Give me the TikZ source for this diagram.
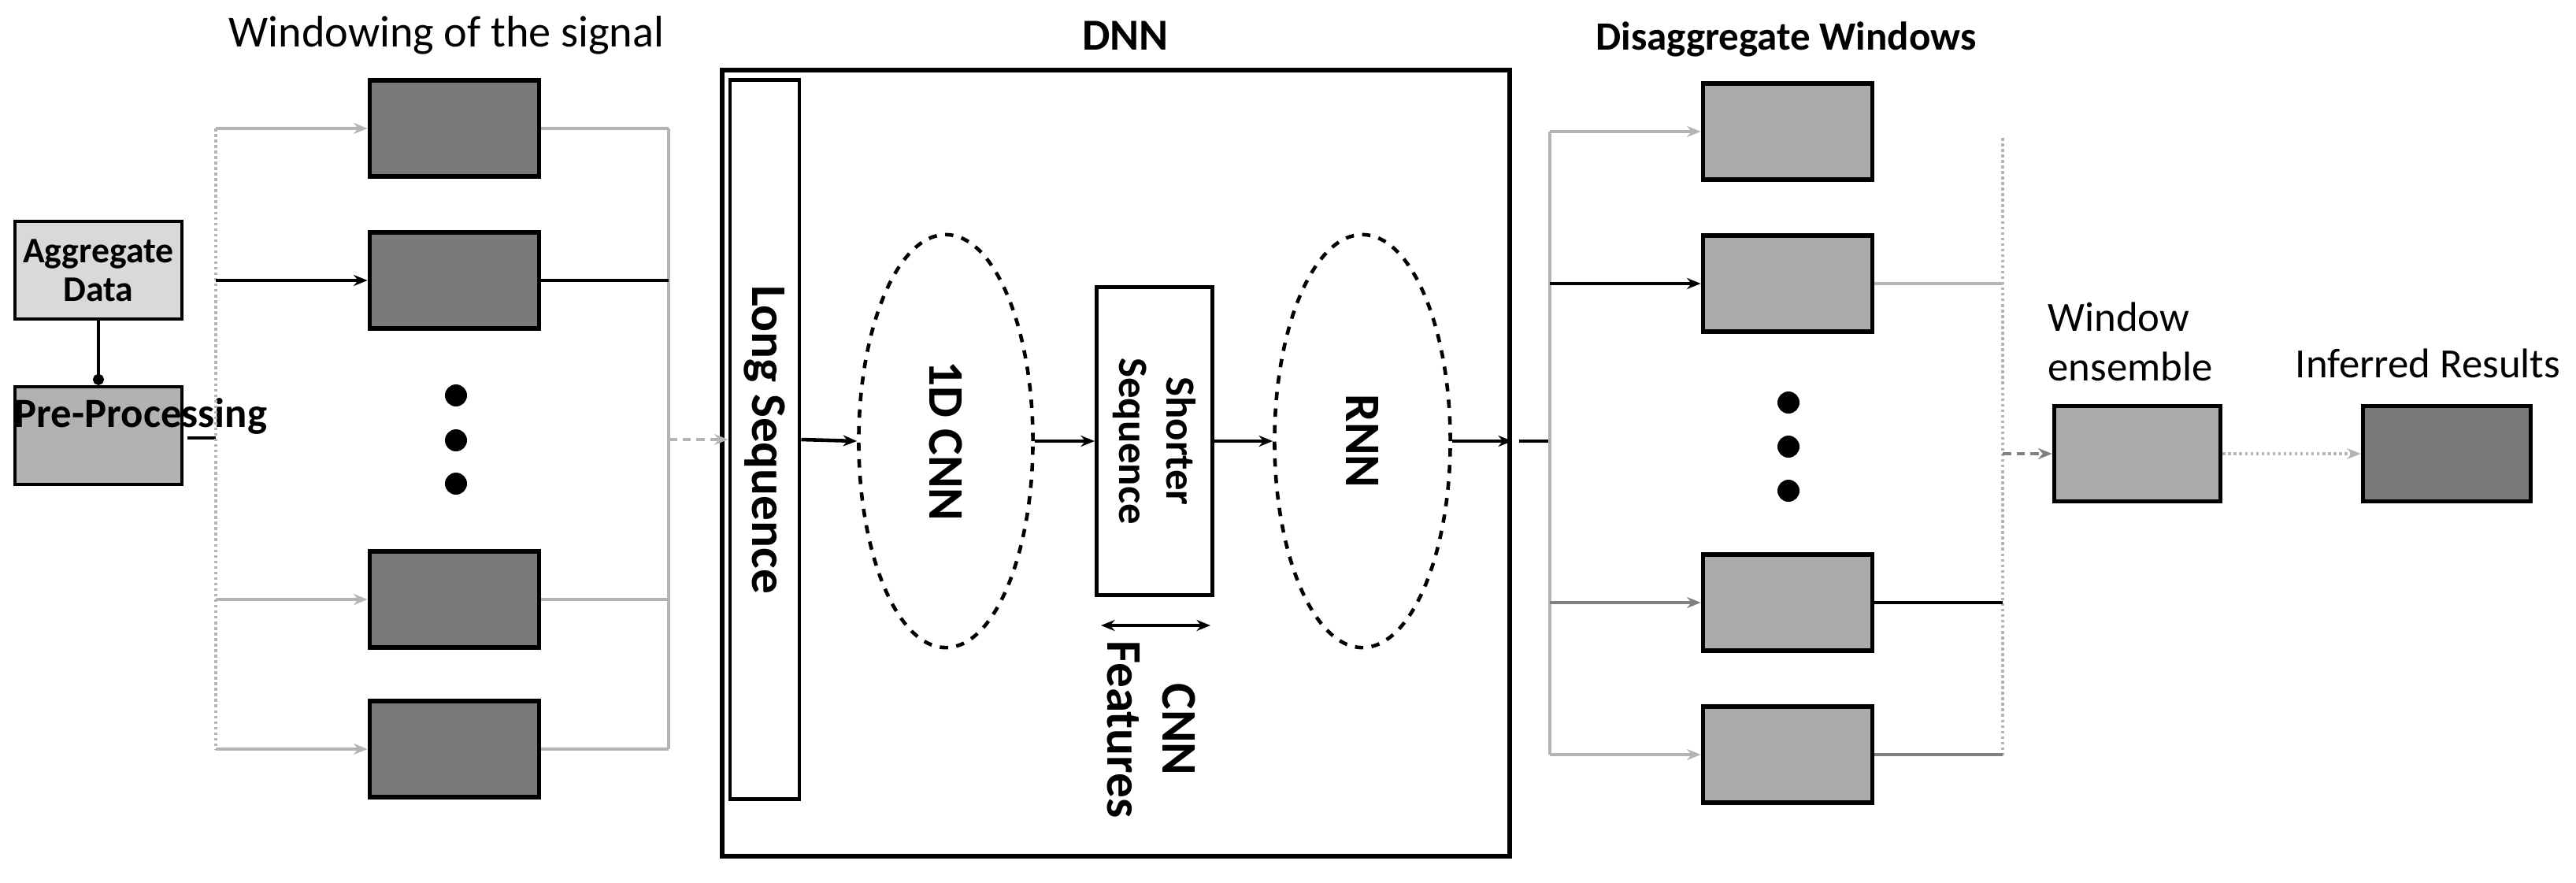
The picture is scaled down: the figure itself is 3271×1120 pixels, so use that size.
\documentclass[tikz,border=0pt]{standalone}
\usepackage{fontspec}
\setmainfont{Carlito}
\usetikzlibrary{positioning,arrows.meta,shapes.geometric}

\definecolor{darkwin}{HTML}{7A7A7A}
\definecolor{lightwin}{HTML}{ABABAB}
\definecolor{wire}{HTML}{B4B4B4}

\tikzset{
  win/.style={draw, line width=1.6pt, minimum width=2.15cm, minimum height=1.22cm, inner sep=0pt},
  darkwin/.style={win, fill=darkwin},
  lightwin/.style={win, fill=lightwin},
  tag/.style={font=\fontsize{15}{18}\selectfont},
  btag/.style={font=\fontsize{18}{20}\selectfont\bfseries},
  wire/.style={draw=wire, line width=1pt},
  bold wire/.style={draw=black, line width=1.4pt},
  >={Stealth[length=5pt,width=4pt]},
  dot/.style={-{Circle[length=4pt]}}
}

\begin{document}
\begin{tikzpicture}[x=0.01cm, y=-0.01cm]
     \useasboundingbox (0,0) rectangle (3271,1120);
     % titles
     \node[tag, font=\fontsize{16}{18}\selectfont] (ttlwin) at (567,45) {Windowing of the signal};
     \node[btag, font=\fontsize{16}{18}\selectfont\bfseries] (ttldnn) at (1429,45) {DNN};
     \node[btag, font=\fontsize{14.5}{17}\selectfont\bfseries] (ttldis) at (2268,50) {Disaggregate Windows};
     % input side
     \node[win, fill=gray!30, line width=1.2pt, minimum width=2.12cm, minimum height=1.24cm, align=center,
           font=\fontsize{13}{14}\selectfont\bfseries] (agg) at (125,343) {Aggregate\\Data};
     \node[win, fill=gray!60, line width=1.2pt, minimum width=2.12cm, minimum height=1.24cm] (pre) at (125,553) {};
     \node[btag, font=\fontsize{15}{17}\selectfont\bfseries] (pretxt) at (179,528) {Pre-Processing};
     \draw[line width=1pt, dot] (agg) -- (pre);
     \coordinate (prebus) at (274,556);
     \draw[line width=1.2pt] (pre.east |- prebus) ++(5,0) -- (prebus);
     % windows of the signal
     \node[darkwin] (w1) at (577,163) {};
     \node[darkwin] (w2) at (577,356) {};
     \node[darkwin] (w3) at (577,761) {};
     \node[darkwin] (w4) at (577,951) {};
     \foreach \y in {502,559,614} \fill (579,\y) circle (14);
     \coordinate (lb1) at (274,163); \coordinate (lb4) at (274,951);
     \coordinate (rb1) at (849,163); \coordinate (rb4) at (849,951);
     \draw[wire, densely dotted] (lb1) -- (lb4);
     \draw[wire] (rb1) -- (rb4);
     \foreach \w in {w1,w3,w4} {
       \draw[wire, ->] (lb1 |- \w) -- (\w.west);
       \draw[wire] (\w.east) -- (rb1 |- \w);
     }
     \draw[bold wire, ->] (lb1 |- w2) -- (w2.west);
     \draw[bold wire] (w2.east) -- (rb1 |- w2);
     % DNN
     \node[draw, line width=1.6pt, minimum width=10cm, minimum height=9.97cm] (dnn) at (1417,588) {};
     \node[draw, line width=1.4pt, minimum width=0.88cm, minimum height=9.12cm, inner sep=0pt] (long) at (971,558) {};
     \node[btag, rotate=-90] (longtxt) at (long) {Long Sequence};
     \node[draw, ellipse, dashed, line width=1.3pt, minimum width=2.21cm, minimum height=5.24cm] (cnn) at (1201,560) {};
     \node[btag, rotate=-90] (cnntxt) at (cnn) {1D CNN};
     \node[draw, line width=1.4pt, minimum width=1.47cm, minimum height=3.9cm] (short) at (1466,560) {};
     \node[btag, font=\fontsize{15}{17}\selectfont\bfseries, rotate=-90, align=center] (shorttxt) at (short) {Shorter\\Sequence};
     \node[draw, ellipse, dashed, line width=1.3pt, minimum width=2.23cm, minimum height=5.24cm] (rnn) at (1730,560) {};
     \node[btag, rotate=-90] (rnntxt) at (rnn) {RNN};
     \draw[wire, densely dashed, ->] (rb1 |- long) -- (long.west);
     \draw[line width=1.3pt, ->] (long.east) -- (cnn.west);
     \draw[line width=1.3pt, ->] (cnn.east) -- (short.west);
     \draw[line width=1.3pt, ->] (short.east) -- (rnn.west);
     \draw[line width=1.3pt, ->] (rnn.east) -- (dnn.east |- rnn);
     \coordinate (f1) at (1398,794); \coordinate (f2) at (1537,794);
     \draw[line width=1.3pt, <->] (f1) -- (f2);
     \node[btag, rotate=-90, align=center] (feattxt) at (1462,926) {CNN\\Features};
     % disaggregate windows
     \node[lightwin] (d1) at (2270,167) {};
     \node[lightwin] (d2) at (2270,360) {};
     \node[lightwin] (d3) at (2270,765) {};
     \node[lightwin] (d4) at (2270,958) {};
     \foreach \y in {511,567,623} \fill (2271,\y) circle (14);
     \coordinate (db1) at (1968,167); \coordinate (db4) at (1968,958);
     \coordinate (ob1) at (2543,175); \coordinate (ob4) at (2543,961);
     \draw[line width=1.3pt] (1929,560) -- (db1 |- rnn);
     \draw[wire] (db1) -- (db4);
     \draw[wire, densely dotted] (ob1) -- (ob4);
     \draw[wire, ->] (db1) -- (d1.west);
     \draw[bold wire, ->] (db1 |- d2) -- (d2.west);
     \draw[wire, draw=gray, ->] (db1 |- d3) -- (d3.west);
     \draw[wire, ->] (db1 |- d4) -- (d4.west);
     \draw[wire] (d2.east) -- (ob1 |- d2);
     \draw[bold wire] (d3.east) -- (ob1 |- d3);
     \draw[wire, draw=gray] (d4.east) -- (ob1 |- d4);
     % ensemble and result
     \node[lightwin, minimum width=2.11cm, minimum height=1.21cm] (ens) at (2714,576) {};
     \node[darkwin, minimum width=2.13cm, minimum height=1.21cm] (res) at (3107,576) {};
     \node[tag, align=left, anchor=west] (enstxt) at (2588,434) {Window\\ensemble};
     \node[tag] (restxt) at (3083,461) {Inferred Results};
     \draw[wire, draw=gray, densely dashed, ->] (ob1 |- ens) -- (ens.west);
     \draw[wire, densely dotted, ->] (ens.east) -- (res.west);
\end{tikzpicture}
\end{document}
